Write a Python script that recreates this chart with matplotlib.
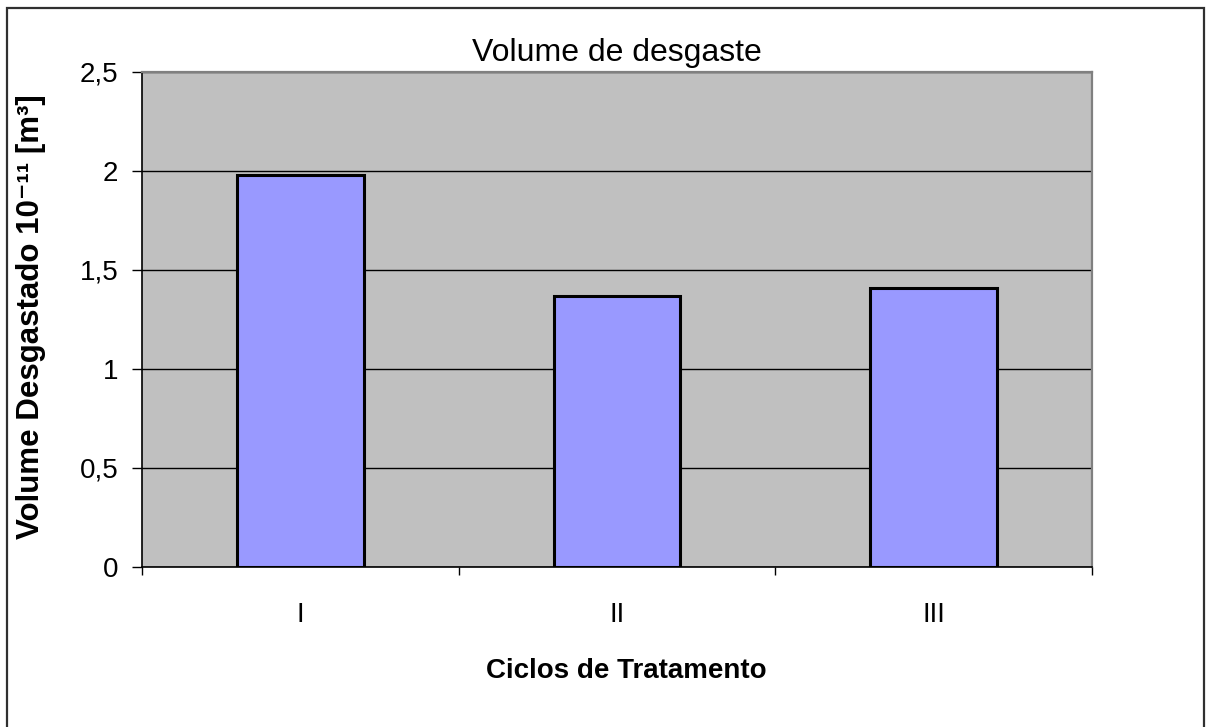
import matplotlib
matplotlib.use("Agg")
import matplotlib.pyplot as plt
from matplotlib.patches import Rectangle

plt.rcParams['font.family'] = ['Liberation Sans', 'DejaVu Sans']

# Wear volume per treatment cycle
ciclos = ['I', 'II', 'III']
volume = [1.98, 1.37, 1.41]

fig = plt.figure(figsize=(12.11, 7.27), dpi=100)
ax = fig.add_axes([0.1173, 0.2201, 0.7844, 0.6809])

# chart frame around the whole figure
fig.patches.append(Rectangle((7 / 1211, -0.05), 1197 / 1211, 0.05 + 719 / 727,
                             transform=fig.transFigure, fill=False,
                             edgecolor='#303030', linewidth=1.6))

ax.set_facecolor('#C0C0C0')
x = range(len(ciclos))
ax.bar(x, volume, width=0.4, color='#9999FF', edgecolor='black',
       linewidth=2.2, zorder=3)

ax.set_ylim(0, 2.5)
ax.set_xlim(-0.5, 2.5)
yticks = [0, 0.5, 1, 1.5, 2, 2.5]
ax.set_yticks(yticks)
ax.set_yticklabels([f'{t:g}'.replace('.', ',') for t in yticks], fontsize=20)
ax.yaxis.grid(True, color='black', linewidth=1, zorder=1)
ax.set_axisbelow(True)

# category boundaries get the tick marks, labels sit in between
ax.set_xticks([-0.5, 0.5, 1.5, 2.5])
ax.set_xticklabels([])
ax.set_xticks(list(x), minor=True)
ax.set_xticklabels(ciclos, minor=True, fontsize=20)
ax.tick_params(axis='x', which='minor', length=0, pad=25)
ax.tick_params(axis='x', which='major', direction='out', length=6, width=1)
ax.tick_params(axis='y', direction='out', length=7, width=1, pad=10)

for side in ['top', 'right']:
    ax.spines[side].set_color('#808080')
    ax.spines[side].set_linewidth(1.6)
for side in ['left', 'bottom']:
    ax.spines[side].set_color('black')
    ax.spines[side].set_linewidth(1.2)

ax.set_title('Volume de desgaste', fontsize=23, pad=8)
ax.set_xlabel('Ciclos de Tratamento', fontsize=20, fontweight='bold')
ax.xaxis.set_label_coords(0.51, -0.184)
ax.set_ylabel('Volume Desgastado 10⁻¹¹ [m³]', fontsize=22.5, fontweight='bold')
ax.yaxis.set_label_coords(-0.117, 0.505)
ax.yaxis.label.set_va('center')

fig.savefig('out.png', dpi=100)
